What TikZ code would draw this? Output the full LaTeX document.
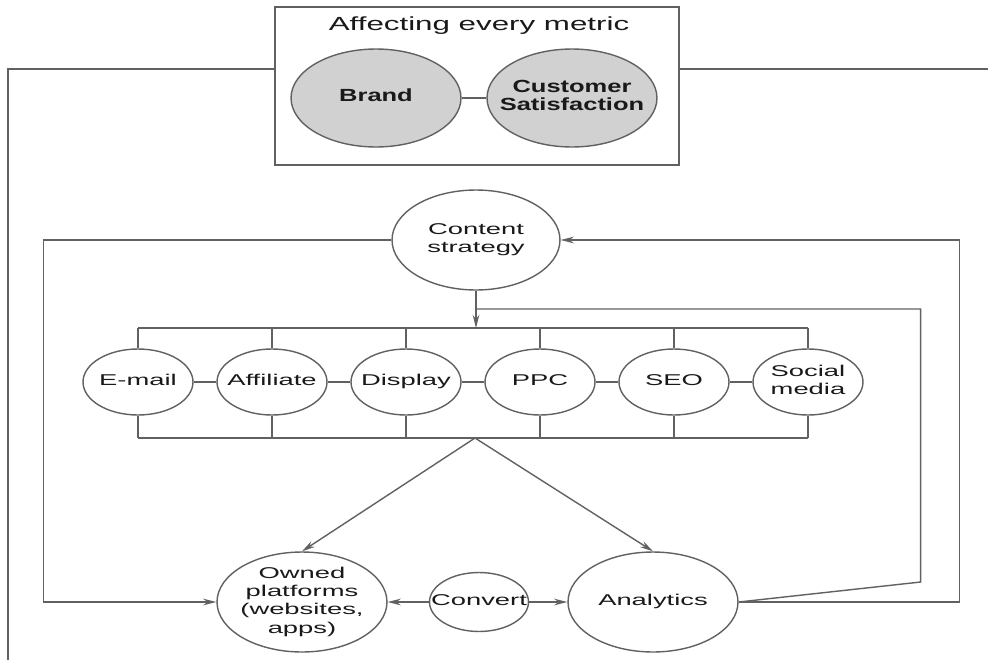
\documentclass[tikz,border=0pt]{standalone}
\usepackage{fontspec}
\setmainfont{Liberation Sans}
\usepackage{graphicx}
\usepackage{tikz}
\usetikzlibrary{
    shapes.geometric,
    positioning,
    arrows.meta
}
\definecolor{linea}{gray}{0.38}
\definecolor{relleno}{gray}{0.82}
\definecolor{texto}{gray}{0.1}

\newcommand{\ancho}[2]{\scalebox{#1}[1]{\begin{tabular}{@{}c@{}}#2\end{tabular}}}
\newcommand{\fuenteTitulo}{\fontsize{10.8}{13}\selectfont}
\newcommand{\fuenteCanal}{\fontsize{8.9}{10.5}\selectfont}
\newcommand{\fuenteNegrita}{\fontsize{10}{10.2}\selectfont\bfseries}

\tikzset{
    >={Stealth[length=7.5pt,width=3.8pt]},
    trazo/.style={
        draw=linea,
        line width=0.8pt
    },
    canal/.style={
        ellipse, trazo, inner sep=0pt,
        minimum width=2.2cm, minimum height=1.32cm
    },
    grande/.style={
        ellipse, trazo, inner sep=0pt,
        minimum width=3.4cm, minimum height=2cm
    },
    metrica/.style={
        grande, fill=relleno,
        minimum height=1.96cm
    },
    dice/.style={
        label={[text=texto, inner sep=0pt, font=\fuenteCanal]center:{\ancho{1.75}{#1}}}
    },
    dicenegrita/.style={
        label={[text=texto, inner sep=0pt, font=\fuenteNegrita]center:{\ancho{1.45}{#1}}}
    }
}

\begin{document}
\begin{tikzpicture}[
    x=0.02cm,
    y=-0.02cm
]
    \useasboundingbox (0,0) rectangle (988,660);

    % Recuadro superior
    \node[trazo, minimum width=8.08cm, minimum height=3.16cm] (metricas) at (477,86) {};
    \node[text=texto, font=\fuenteTitulo] (titulo) at (479,26) {\ancho{1.65}{Affecting every metric}};
    \node[metrica, dicenegrita=Brand]                  (marca)  at (376,98) {};
    \node[metrica, dicenegrita={Customer\\Satisfaction}] (satisf) at (572,98) {};
    \draw[trazo] (marca) -- (satisf);

    % Linea exterior
    \coordinate (extIzq) at (8,660);
    \coordinate (extDer) at (988,69);
    \draw[trazo] (metricas.west |- extDer) -| (extIzq);
    \draw[trazo] (metricas.east |- extDer) -- (extDer);

    % Estrategia
    \node[grande, minimum width=3.36cm, dice={Content\\strategy}] (estrategia) at (476,240) {};

    % Canales
    \foreach \n/\etiq [count=\i from 0] in {email/E-mail, afiliado/Affiliate, display/Display, ppc/PPC, seo/SEO, social/{Social\\media}}
        \node[canal, dice=\etiq] (\n) at (138+134*\i,382) {};

    \coordinate (barraSup) at (476,328);
    \coordinate (barraInf) at (475,438);
    \coordinate (union)    at (476,309);

    \draw[trazo] (email.north |- barraSup) -- (social.north |- barraSup);
    \draw[trazo] (email.south |- barraInf) -- (social.south |- barraInf);
    \foreach \n in {email,afiliado,display,ppc,seo,social} {
        \draw[trazo] (\n.north) -- (\n.north |- barraSup);
        \draw[trazo] (\n.south) -- (\n.south |- barraInf);
    }
    \foreach \a/\b in {email/afiliado, afiliado/display, display/ppc, ppc/seo, seo/social}
        \draw[trazo] (\a) -- (\b);

    \draw[trazo, ->] (estrategia) -- (barraSup);

    % Plataformas
    \node[grande, dice={Owned\\platforms\\(websites,\\apps)}] (propias)   at (302,602) {};
    \node[grande, dice=Analytics]                               (analitica) at (653,602) {};
    \node[canal, minimum width=1.98cm, minimum height=1.18cm, dice=Convert] (convertir) at (479,602) {};

    \draw[trazo, ->] (barraInf) -- (propias.north);
    \draw[trazo, ->] (barraInf) -- (analitica.north);
    \draw[trazo, ->] (convertir) -- (propias);
    \draw[trazo, ->] (convertir) -- (analitica);

    % Retroalimentacion
    \draw[trazo, ->] (estrategia.west) -- ++(-348,0) |- (propias.west);
    \draw[trazo, ->] (analitica.east) -- ++(221,0) |- (estrategia.east);
    \draw[trazo] (analitica.east) -- ++(182,-20) |- (union);

\end{tikzpicture}
\end{document}
